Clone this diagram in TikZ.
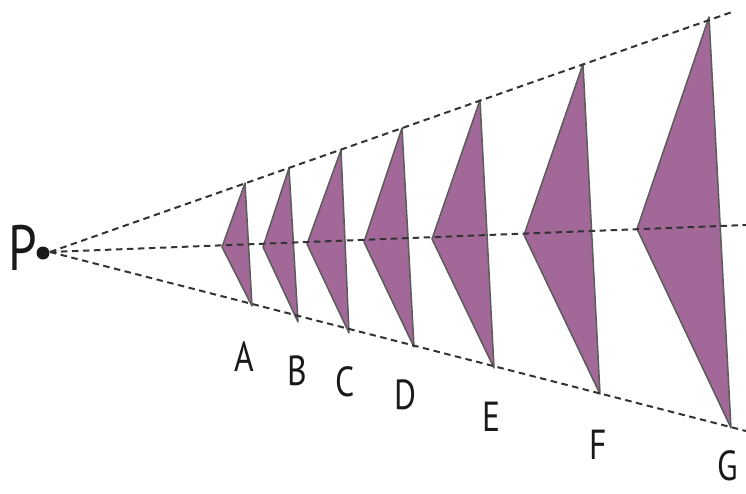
\documentclass[tikz,border=0pt]{standalone}
\usepackage{fontspec}
\setmainfont{PT Sans}
\definecolor{tri}{HTML}{A16898}
\definecolor{edge}{HTML}{5C5C5C}
\definecolor{ray}{HTML}{333333}
\begin{document}
\begin{tikzpicture}[x=1pt,y=-1pt,
  wedge/.style={fill=tri,draw=edge,line width=1.5pt,line join=round},
  rayline/.style={draw=ray,line width=2pt,dash pattern=on 6.5pt off 4.5pt},
  lbl/.style={font=\fontsize{42}{42}\selectfont,xscale=0.8,inner sep=0pt,text=black!90}]
\useasboundingbox (0,0) rectangle (746,494);
% triangles
\foreach \n/\tx/\ty/\lx/\ly/\bx/\by in {
  A/245/183/222/247/252/306,
  B/289/168/263/247/298/322,
  C/341/150/307/244/349/333,
  D/402/128/364/242/414/347,
  E/480/100/432/239/494/368,
  F/583/64/524/235/600/394,
  G/709/17/637/229/731/428}{
  \coordinate (\n t) at (\tx,\ty);
  \coordinate (\n l) at (\lx,\ly);
  \coordinate (\n b) at (\bx,\by);
  \path[wedge] (\n t) -- (\n l) -- (\n b) -- cycle;
}
% apex and rays
\coordinate (apex) at (50,252);
\coordinate (up) at (732,12);
\coordinate (mid) at (746,225);
\coordinate (low) at (746,431);
\draw[rayline] (apex) -- (up);
\draw[rayline] (apex) -- (mid);
\draw[rayline] (apex) -- (low);
\fill[black!90] (43,253) circle (6.5);
\node[font=\fontsize{64}{64}\selectfont,xscale=0.8,inner sep=0pt,text=black!90] (P) at (23,248) {P};
% labels
\node[lbl] (la) at (244,357) {A};
\node[lbl] (lb) at (297,371) {B};
\node[lbl] (lc) at (345,382) {C};
\node[lbl] (ld) at (405,395) {D};
\node[lbl] (le) at (491,417) {E};
\node[lbl] (lf) at (598,445) {F};
\node[lbl] (lg) at (728,466) {G};
\end{tikzpicture}
\end{document}
